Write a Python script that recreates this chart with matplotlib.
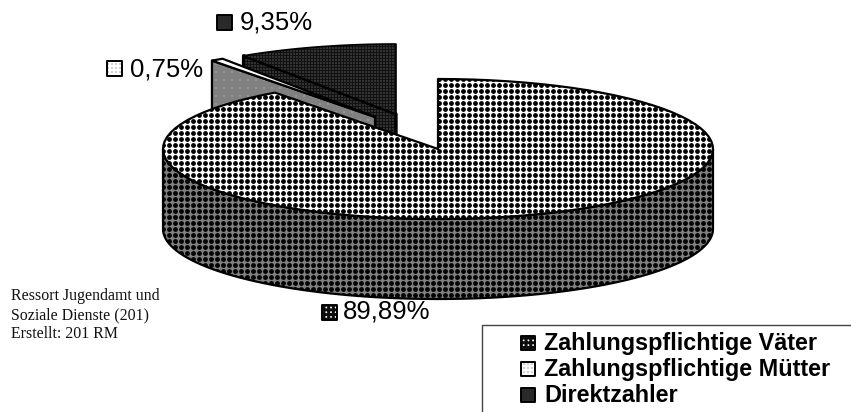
# -*- coding: utf-8 -*-
import numpy as np
import matplotlib
matplotlib.use('Agg')
import matplotlib.pyplot as plt
from matplotlib.patches import Polygon, Rectangle

#data
labels = ['Zahlungspflichtige Väter', 'Zahlungspflichtige Mütter', 'Direktzahler']
shares = [89.89, 0.75, 9.35]
share_text = ['89,89%', '0,75%', '9,35%']
note_lines = ['Ressort Jugendamt und', 'Soziale Dienste (201)', 'Erstellt: 201 RM']

#pie geometry, in pixels of the 851x412 canvas
W, H = 851, 412
cx, cy = 438, 149
rx, ry = 275, 70
depth = 80
offsets = [(0, 0), (-63, -32), (-42, -35)]

#where the labels go (swatch x, swatch y, text x, baseline y)
label_pos = [(322, 305, 343, 319), (107, 61, 130, 76), (217, 15, 240, 29)]
legend_x, legend_top = 482, 325
legend_rows = [350, 376, 402]

plt.rcParams['font.family'] = 'Liberation Sans'

fig = plt.figure(figsize=(W / 100, H / 100), dpi=100)
ax = fig.add_axes([0, 0, 1, 1])
ax.axis('off')

xx, yy = np.meshgrid(np.arange(W) + 0.5, np.arange(H) + 0.5)

#dotted fill like the old office patterns
def dots(bg, fg, period, radius, x0=0.0, y0=0.0):
    dx = (xx - x0 + period / 2) % period - period / 2
    dy = (yy - y0 + period / 2) % period - period / 2
    mask = np.clip(radius + 0.5 - np.hypot(dx, dy), 0, 1)
    return bg + (fg - bg) * mask

white_dots = dots(1.0, 0.0, 6.0, 2.4, 1.5, 1.5)
grey_dots = dots(0.5, 0.0, 6.0, 2.4, 1.5, 1.5)
dark_dots = dots(0.07, 0.5, 3.0, 0.5)
mid_dots = dots(0.5, 0.72, 8.0, 0.6)
white = np.ones((H, W))

def fill(verts, tex, z, lw=1.6):
    im = ax.imshow(tex, cmap='gray', vmin=0, vmax=1, extent=(0, W, H, 0),
                   interpolation='nearest', zorder=z, aspect='auto')
    poly = Polygon(verts, closed=True, fc='none', ec='black', lw=lw, zorder=z + 0.5,
                   joinstyle='round')
    ax.add_patch(poly)
    im.set_clip_path(poly)

def rim(a1, a2, ox, oy, down=0):
    t = np.radians(np.linspace(a1, a2, 90))
    return np.column_stack([cx + ox + rx * np.cos(t), cy + oy - ry * np.sin(t) + down])

#wedge angles, clockwise from twelve o'clock
total = sum(shares)
angles = [90.0]
for s in shares:
    angles.append(angles[-1] - s / total * 360)

#direktzahler, at the back
ox, oy = offsets[2]
a1, a2 = angles[2], angles[3]
apex = np.array([[cx + ox, cy + oy]])
face = np.vstack([apex, rim(a1, a1, ox, oy)[:1], rim(a1, a1, ox, oy, depth)[:1], apex + [0, depth]])
fill(face, dark_dots, 1, lw=2.4)
fill(np.vstack([apex, rim(a1, a2, ox, oy)]), dark_dots, 2, lw=1.2)

#muetter slice
ox, oy = offsets[1]
a1, a2 = angles[1], angles[2]
apex = np.array([[cx + ox, cy + oy]])
face = np.vstack([apex, rim(a1, a1, ox, oy)[:1], rim(a1, a1, ox, oy, depth)[:1], apex + [0, depth]])
fill(face, mid_dots, 3)
fill(np.vstack([apex, rim(a1, a2, ox, oy)]), white, 4)

#vaeter, the big one
a1, a2 = angles[0], angles[1]
side = np.vstack([rim(180, 360, 0, 0), rim(360, 180, 0, 0, depth)])
fill(side, grey_dots, 5)
fill(np.vstack([[[cx, cy]], rim(a1, a2, 0, 0)]), white_dots, 6)

swatch_tex = [dots(0.05, 1.0, 4.7, 0.9, 2.0, 2.0), dots(1.0, 0.55, 4.0, 0.6), dots(0.1, 0.45, 2.0, 0.4)]

def swatch(x, y, tex, size=15):
    fill([(x, y), (x + size, y), (x + size, y + size), (x, y + size)], tex, 8, lw=1.4)

for i in range(3):
    sx, sy, tx, ty = label_pos[i]
    swatch(sx, sy, swatch_tex[i])
    ax.text(tx, ty, share_text[i], fontsize=18.5, color='black', va='baseline', ha='left', zorder=9)

#legend box runs off the canvas
ax.add_patch(Rectangle((legend_x, legend_top), W + 10 - legend_x, H + 10 - legend_top,
                       fc='white', ec='#444444', lw=1.0, zorder=7))
for i in range(3):
    swatch(521, legend_rows[i] - 14, swatch_tex[i], 14)
    ax.text(544, legend_rows[i], labels[i], fontsize=16.85, fontweight='bold', va='baseline', ha='left', zorder=9)

for i, line in enumerate(note_lines):
    ax.text(11, 300.5 + i * 19, line, family='Liberation Serif', fontsize=11.4, color='#111111',
            va='baseline', ha='left', zorder=9)

ax.set_xlim(0, W)
ax.set_ylim(H, 0)
fig.savefig('out.png', dpi=100, facecolor='white')
